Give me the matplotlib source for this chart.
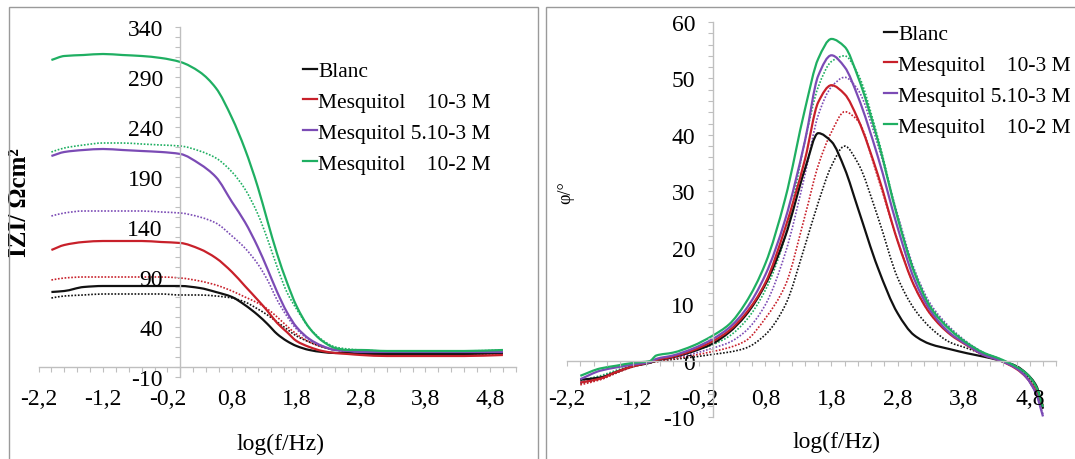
import matplotlib
matplotlib.use("Agg")
import matplotlib.pyplot as plt
from matplotlib.ticker import FixedLocator, MultipleLocator, NullLocator
from matplotlib.patches import Rectangle, PathPatch
from matplotlib.path import Path
from matplotlib.lines import Line2D

plt.rcParams['font.family'] = ['Liberation Serif', 'DejaVu Serif']
plt.rcParams['axes.unicode_minus'] = False

# ---------------- data ----------------
LEGEND_LABELS = ["Blanc", "Mesquitol    10-3 M", "Mesquitol 5.10-3 M", "Mesquitol    10-2 M"]
COLORS = ["#111111", "#c8202a", "#7b4bb5", "#1faf62"]

XTICKS = [-2.2, -1.2, -0.2, 0.8, 1.8, 2.8, 3.8, 4.8]
XTICK_LABELS = ["-2,2", "-1,2", "-0,2", "0,8", "1,8", "2,8", "3,8", "4,8"]

# Bode modulus |Z| (Ohm cm2) vs log(f/Hz)
X_MOD = [-2.0, -1.8, -1.5, -1.2, -0.9, -0.6, -0.3, 0.0, 0.3, 0.55, 0.8, 1.0, 1.2, 1.35,
         1.5, 1.65, 1.8, 2.0, 2.2, 2.4, 2.6, 2.8, 3.2, 3.8, 4.4, 5.0]
MOD_BLANC = [75, 76, 80, 81, 81, 81, 81, 81, 79, 75, 70, 62, 52, 43, 33, 26, 21, 17, 15, 14, 14, 13, 13, 13, 13, 14]
MOD_M1E3 = [117, 122, 125, 126, 126, 126, 125, 124, 118, 109, 95, 81, 67, 56, 44, 35, 26, 20, 16, 14, 13, 12, 11, 11, 11, 12]
MOD_M5E3 = [211, 215, 217, 218, 217, 216, 215, 213, 203, 190, 165, 145, 120, 98, 75, 55, 40, 28, 21, 17, 16, 15, 15, 15, 15, 15]
MOD_M1E2 = [307, 311, 312, 313, 312, 311, 309, 305, 295, 279, 249, 218, 180, 146, 113, 85, 61, 39, 26, 19, 17, 17, 16, 16, 16, 17]
MOD_BLANC_D = [69, 71, 72, 73, 73, 73, 73, 72, 72, 71, 69, 65, 58, 52, 45, 38, 31, 25, 20, 17, 16, 15, 14, 14, 14, 14]
MOD_M1E3_D = [87, 89, 90, 90, 90, 90, 90, 89, 86, 82, 76, 70, 64, 58, 50, 41, 33, 25, 20, 17, 15, 14, 13, 13, 13, 13]
MOD_M5E3_D = [151, 154, 156, 156, 156, 156, 155, 154, 150, 144, 131, 119, 103, 87, 67, 51, 38, 27, 21, 17, 16, 15, 15, 15, 15, 15]
MOD_M1E2_D = [215, 219, 222, 224, 224, 223, 222, 221, 216, 209, 195, 178, 153, 128, 100, 75, 58, 39, 27, 20, 18, 17, 16, 16, 16, 17]

# Bode phase (deg) vs log(f/Hz)
X_PH = [-2.0, -1.7, -1.45, -1.2, -0.95, -0.85, -0.6, -0.3, 0.0, 0.25, 0.5, 0.8, 1.1, 1.4, 1.6,
        1.8, 2.0, 2.2, 2.5, 2.8, 3.05, 3.3, 3.6, 3.85, 4.1, 4.35, 4.6, 4.75, 4.9, 5.0]
PH_BLANC = [-3.4, -3.0, -2.0, -1.0, -0.4, 0.0, 0.6, 1.6, 3.0, 5.0, 8.0, 13.5, 22.0, 34.0, 40.3,
            38.8, 34.0, 27.0, 16.5, 8.4, 4.5, 2.9, 2.0, 1.3, 0.7, 0.0, -1.0, -2.3, -4.5, -8.5]
PH_M1E3 = [-3.9, -3.2, -2.0, -1.0, -0.3, 0.1, 0.7, 1.8, 3.4, 5.3, 8.3, 13.8, 23.5, 35.7, 45.8,
           48.8, 47.2, 42.8, 33.0, 21.2, 13.3, 8.2, 4.6, 2.7, 1.0, 0.0, -1.5, -3.0, -5.5, -8.0]
PH_M5E3 = [-3.3, -1.8, -1.2, -0.7, -0.3, 0.3, 0.9, 2.1, 3.8, 5.8, 9.0, 15.2, 25.0, 39.0, 50.5,
           54.1, 52.0, 46.8, 36.2, 23.6, 14.5, 8.8, 4.8, 2.8, 1.0, 0.0, -1.4, -3.0, -6.0, -9.9]
PH_M1E2 = [-2.7, -1.4, -0.9, -0.4, -0.1, 0.9, 1.4, 2.6, 4.4, 6.4, 10.2, 17.2, 28.7, 44.6, 53.5,
           57.0, 55.6, 50.3, 39.1, 25.3, 15.7, 9.4, 5.4, 3.1, 1.4, 0.3, -1.1, -2.3, -4.7, -8.2]
PH_BLANC_D = [-4.0, -3.3, -2.1, -1.0, -0.4, -0.2, 0.2, 0.6, 1.1, 1.5, 2.2, 4.6, 9.8, 20.4, 28.0,
              34.5, 38.0, 35.0, 25.5, 14.7, 9.2, 5.8, 3.2, 2.2, 1.1, 0.0, -1.2, -2.6, -5.0, -8.5]
PH_M1E3_D = [-4.3, -3.4, -2.2, -1.1, -0.4, -0.2, 0.3, 0.9, 1.6, 2.3, 3.5, 7.5, 13.3, 25.7, 34.6,
             40.5, 44.1, 42.5, 32.5, 21.3, 13.3, 8.2, 4.8, 2.8, 1.2, 0.0, -1.4, -3.0, -5.8, -8.3]
PH_M5E3_D = [-3.8, -3.0, -1.9, -0.9, -0.3, 0.0, 0.5, 1.2, 2.2, 3.2, 5.2, 9.9, 19.0, 33.0, 43.5,
             48.5, 50.2, 48.0, 38.3, 25.9, 16.3, 10.0, 5.8, 3.3, 1.4, 0.1, -1.3, -3.0, -6.0, -9.5]
PH_M1E2_D = [-3.5, -2.7, -1.7, -0.8, -0.3, 0.1, 0.7, 1.6, 2.8, 4.3, 7.0, 12.5, 22.0, 39.0, 48.5,
             53.0, 54.0, 50.8, 39.6, 25.6, 16.0, 9.6, 5.6, 3.2, 1.4, 0.3, -1.1, -2.3, -4.8, -8.0]

MOD_SOLID = [MOD_BLANC, MOD_M1E3, MOD_M5E3, MOD_M1E2]
MOD_DOT = [MOD_BLANC_D, MOD_M1E3_D, MOD_M5E3_D, MOD_M1E2_D]
PH_SOLID = [PH_BLANC, PH_M1E3, PH_M5E3, PH_M1E2]
PH_DOT = [PH_BLANC_D, PH_M1E3_D, PH_M5E3_D, PH_M1E2_D]


def smooth_curve(ax, x, y, **kw):
    """Draw the read points as a smooth monotone cubic (Bezier) curve in data coords."""
    n = len(x)
    h = [x[i + 1] - x[i] for i in range(n - 1)]
    d = [(y[i + 1] - y[i]) / h[i] for i in range(n - 1)]
    m = [0.0] * n
    m[0], m[-1] = d[0], d[-1]
    for i in range(1, n - 1):
        if d[i - 1] * d[i] <= 0:
            m[i] = 0.0
        else:
            w1 = 2 * h[i] + h[i - 1]
            w2 = h[i] + 2 * h[i - 1]
            m[i] = (w1 + w2) / (w1 / d[i - 1] + w2 / d[i])
    verts = [(x[0], y[0])]
    codes = [Path.MOVETO]
    for i in range(n - 1):
        verts += [(x[i] + h[i] / 3, y[i] + m[i] * h[i] / 3),
                  (x[i + 1] - h[i] / 3, y[i + 1] - m[i + 1] * h[i] / 3),
                  (x[i + 1], y[i + 1])]
        codes += [Path.CURVE4] * 3
    patch = PathPatch(Path(verts, codes), facecolor='none', **kw)
    ax.add_patch(patch)
    return patch


# ---------------- figure ----------------
W, H = 1075, 460
fig = plt.figure(figsize=(W / 100, H / 100), dpi=100)

GRAY = "#bfbfbf"
TICK_FS = 17
LEG_FS = 15.5

# panel frames
for (x0, x1) in [(9, 538), (546, 1085)]:
    fig.patches.append(Rectangle((x0 / W, -0.02), (x1 - x0) / W, 1.02 - 8 / H,
                                 transform=fig.transFigure, fill=False,
                                 edgecolor="#9a9a9a", linewidth=1.0))

axL = fig.add_axes([38.5 / W, 82 / H, 477.3 / W, 350 / H])
axR = fig.add_axes([567.1 / W, 42 / H, 489.1 / W, 395 / H])

for ax in (axL, axR):
    ax.patch.set_alpha(0)
    ax.spines['top'].set_visible(False)
    ax.spines['right'].set_visible(False)
    ax.spines['left'].set_position(('data', 0))
    ax.spines['bottom'].set_position(('data', 0))
    for s in ('left', 'bottom'):
        ax.spines[s].set_color(GRAY)
        ax.spines[s].set_linewidth(1.0)
    ax.set_xlim(-2.2, 5.2)
    ax.xaxis.set_major_locator(FixedLocator(XTICKS))
    ax.xaxis.set_minor_locator(MultipleLocator(0.2))
    ax.tick_params(axis='both', which='both', direction='out', length=3.6,
                   width=0.8, color=GRAY, labelsize=TICK_FS)

handles = [Line2D([], [], color=c, lw=1.6) for c in COLORS]

# ----- left panel: modulus -----
for yd, c in zip(MOD_DOT, COLORS):
    smooth_curve(axL, X_MOD, yd, edgecolor=c, lw=1.2, linestyle=(0, (1, 1)))
for ys, c in zip(MOD_SOLID, COLORS):
    smooth_curve(axL, X_MOD, ys, edgecolor=c, lw=1.6)

axL.set_ylim(-10, 340)
axL.set_yticks(range(-10, 341, 50))
axL.yaxis.set_minor_locator(MultipleLocator(10))
axL.tick_params(axis='y', pad=9)
axL.tick_params(axis='x', which='both', labelbottom=False)

sec = axL.secondary_xaxis(0.0)
sec.set_xticks(XTICKS, XTICK_LABELS)
sec.xaxis.set_minor_locator(NullLocator())
sec.tick_params(axis='x', length=0, pad=8, labelsize=TICK_FS)
for s in sec.spines.values():
    s.set_visible(False)

axL.set_ylabel("IZI/ Ωcm²", fontsize=18, fontweight='bold', va='center')
axL.yaxis.set_label_coords(-0.039, 0.5)
axL.set_xlabel("log(f/Hz)", fontsize=17, va='center')
axL.xaxis.set_label_coords(0.508, -0.19)

axL.legend(handles, LEGEND_LABELS, loc='upper left',
           bbox_to_anchor=(302.7 / W, 1 - 62 / H),
           bbox_transform=fig.transFigure, frameon=False, fontsize=LEG_FS,
           handlelength=0.68, handletextpad=0.05, labelspacing=0.5,
           borderpad=0, borderaxespad=0)

# ----- right panel: phase -----
for yd, c in zip(PH_DOT, COLORS):
    smooth_curve(axR, X_PH, yd, edgecolor=c, lw=1.2, linestyle=(0, (1, 1)))
for ys, c in zip(PH_SOLID, COLORS):
    smooth_curve(axR, X_PH, ys, edgecolor=c, lw=1.6)

axR.set_ylim(-10, 60)
axR.set_yticks(range(-10, 61, 10))
axR.yaxis.set_minor_locator(MultipleLocator(2))
axR.tick_params(axis='y', pad=9)
axR.set_xticks(XTICKS, XTICK_LABELS)
axR.tick_params(axis='x', pad=16)

axR.set_ylabel("φ/°", fontsize=13, va='center')
axR.yaxis.set_label_coords(-0.003, 0.57)
axR.set_xlabel("log(f/Hz)", fontsize=17, va='center')
axR.xaxis.set_label_coords(0.55, -0.063)

axR.legend(handles, LEGEND_LABELS, loc='upper left',
           bbox_to_anchor=(884 / W, 1 - 25 / H),
           bbox_transform=fig.transFigure, frameon=False, fontsize=LEG_FS,
           handlelength=0.62, handletextpad=0.05, labelspacing=0.5,
           borderpad=0, borderaxespad=0)

fig.savefig("out.png", dpi=100)
